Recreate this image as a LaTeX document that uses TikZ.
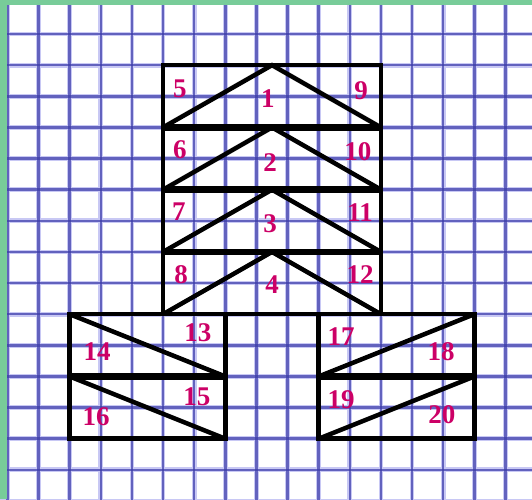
\documentclass[tikz,border=0pt]{standalone}
\usepackage{fontspec}
\setmainfont{Liberation Serif}
\definecolor{gridhalo}{RGB}{200,200,244}
\definecolor{gridcore}{RGB}{60,60,170}
\definecolor{pagegreen}{RGB}{120,204,153}
\definecolor{numred}{RGB}{204,0,102}
\tikzset{
  halo/.style={gridhalo, line width=4.8pt},
  core/.style={gridcore, line width=2.5pt, opacity=0.72},
  edge/.style={black, line width=4.5pt, line join=miter},
  seam/.style={black, line width=6.5pt},
  num/.style={text=numred, inner sep=0pt, font=\fontsize{27}{27}\selectfont\bfseries}
}
\begin{document}
\begin{tikzpicture}[x=31.13pt, y=-31.13pt]
  \useasboundingbox (-0.238,-0.093) rectangle (16.852,15.937);
  \clip (-0.238,-0.093) rectangle (16.852,15.937);
  % Grid
  \foreach \k in {0,...,16} {
    \draw[halo] (\k,-0.1) -- (\k,16);
    \draw[halo] (-0.3,\k) -- (16.9,\k);
  }
  \foreach \k in {0,...,16} {
    \draw[core] (\k,-0.1) -- (\k,16);
    \draw[core] (-0.3,\k) -- (16.9,\k);
  }
  % Page edge
  \fill[pagegreen] (-0.238,-0.093) rectangle (-0.013,15.937);
  \fill[pagegreen] (-0.238,-0.093) rectangle (16.852,0.068);
  % Stack of four boxes
  \foreach \r in {2,4,6,8} {
    \draw[edge] (5,\r) rectangle (12,\r+2);
    \draw[edge] (5,\r+2) -- (8.5,\r) -- (12,\r+2);
  }
  \foreach \r in {4,6,8} {
    \draw[seam] (5,\r) -- (12,\r);
  }
  % Left pair of boxes
  \draw[edge] (2,10) rectangle (7,14);
  \draw[seam] (2,12) -- (7,12);
  \draw[edge] (2,10) -- (7,12);
  \draw[edge] (2,12) -- (7,14);
  % Right pair of boxes
  \draw[edge] (10,10) rectangle (15,14);
  \draw[seam] (10,12) -- (15,12);
  \draw[edge] (10,12) -- (15,10);
  \draw[edge] (10,14) -- (15,12);
  % Line under the stack
  \draw[edge] (2,10) -- (15,10);
  % Numbers
  \node[num] (n1) at (8.37,3.09) {1};
  \node[num] (n2) at (8.44,5.14) {2};
  \node[num] (n3) at (8.44,7.10) {3};
  \node[num] (n4) at (8.50,9.06) {4};
  \node[num] (n5) at (5.54,2.77) {5};
  \node[num] (n6) at (5.54,4.73) {6};
  \node[num] (n7) at (5.51,6.72) {7};
  \node[num] (n8) at (5.58,8.74) {8};
  \node[num] (n9) at (11.36,2.83) {9};
  \node[num] (n10) at (11.26,4.79) {10};
  \node[num] (n11) at (11.33,6.72) {11};
  \node[num] (n12) at (11.33,8.74) {12};
  \node[num] (n13) at (6.12,10.60) {13};
  \node[num] (n14) at (2.88,11.21) {14};
  \node[num] (n15) at (6.09,12.66) {15};
  \node[num] (n16) at (2.85,13.30) {16};
  \node[num] (n17) at (10.72,10.73) {17};
  \node[num] (n18) at (13.93,11.21) {18};
  \node[num] (n19) at (10.72,12.76) {19};
  \node[num] (n20) at (13.96,13.24) {20};
\end{tikzpicture}
\end{document}
